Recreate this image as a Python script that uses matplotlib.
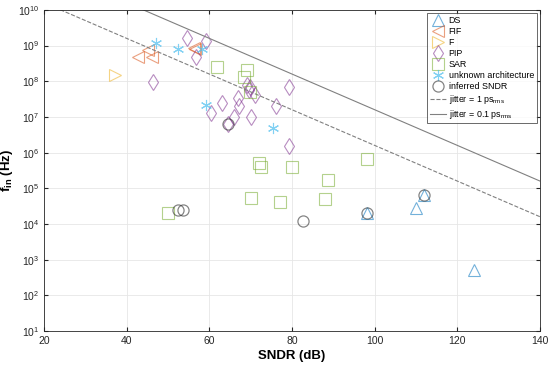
import numpy as np
import matplotlib
matplotlib.use('Agg')
import matplotlib.pyplot as plt

plt.rcParams['font.family'] = ['Liberation Sans', 'DejaVu Sans']
plt.rcParams['mathtext.fontset'] = 'custom'
plt.rcParams['mathtext.rm'] = 'Liberation Sans'
plt.rcParams['mathtext.it'] = 'Liberation Sans'
plt.rcParams['mathtext.bf'] = 'Liberation Sans:bold'

# data: SNDR (dB), fin (Hz)
ds_sndr = [124.0, 110.0, 111.9, 98.1]
ds_fin = [5.1e2, 2.8e4, 6.5e4, 2.0e4]

fif_sndr = [42.7, 45.2, 46.1, 56.3, 56.6]
fif_fin = [4.8e8, 7.6e8, 4.8e8, 8.5e8, 8.0e8]

f_sndr = [37.2]
f_fin = [1.5e8]

pip_sndr = [46.4, 54.6, 59.2, 56.8, 69.1, 69.8, 69.6, 71.0, 79.3, 66.9, 63.1,
            76.1, 67.2, 60.4, 66.0, 70.1, 79.3, 64.5]
pip_fin = [9.5e7, 1.6e9, 1.35e9, 4.8e8, 8.0e7, 7.0e7, 5.8e7, 4.2e7, 7.0e7, 3.4e7, 2.5e7,
           2.0e7, 2.0e7, 1.3e7, 1.0e7, 1.0e7, 1.55e6, 6.3e6]

sar_sndr = [61.9, 69.1, 68.4, 69.8, 72.0, 72.5, 80.0, 88.7, 70.1, 77.1, 88.0, 98.1, 50.0]
sar_fin = [2.5e8, 2.1e8, 1.3e8, 5.0e7, 5.1e5, 4.0e5, 4.0e5, 1.7e5, 5.4e4, 4.2e4, 5.0e4, 6.6e5, 2.0e4]

unk_sndr = [47.1, 52.4, 58.2, 59.2, 75.4]
unk_fin = [1.2e9, 8.2e8, 8.2e8, 2.2e7, 4.9e6]

inf_sndr = [52.4, 53.6, 64.5, 82.7, 98.1, 111.9]
inf_fin = [2.5e4, 2.5e4, 6.3e6, 1.2e4, 2.0e4, 6.5e4]

jitters = [1e-12, 0.1e-12]

fig = plt.figure(figsize=(5.5, 3.67), dpi=100)
ax = fig.add_axes([0.08, 0.098, 0.902, 0.875])

kw = dict(linestyle='none', fillstyle='none', markersize=8, markeredgewidth=0.8, alpha=0.55)
ax.plot(ds_sndr, ds_fin, '^', color=(0, 0.447, 0.741), label='DS', **kw)
ax.plot(fif_sndr, fif_fin, '<', color=(0.85, 0.325, 0.098), label='FIF', **kw)
ax.plot(f_sndr, f_fin, '>', color=(0.929, 0.694, 0.125), label='F', **kw)
ax.plot(pip_sndr, pip_fin, 'd', color=(0.494, 0.184, 0.556), label='PIP', **kw)
ax.plot(sar_sndr, sar_fin, 's', color=(0.466, 0.674, 0.188), label='SAR', **kw)
ax.plot(unk_sndr, unk_fin, marker=(6, 2, 0), color=(0.301, 0.745, 0.933),
        label='unknown architecture', linestyle='none', markersize=8,
        markeredgewidth=0.8, alpha=0.7)
ax.plot(inf_sndr, inf_fin, 'o', color=(0.2, 0.2, 0.2), label='inferred SNDR',
        linestyle='none', fillstyle='none', markersize=8, markeredgewidth=0.9, alpha=0.6)

s = np.linspace(20, 140, 200)
ax.plot(s, 10 ** (-s / 20) / (2 * np.pi * jitters[0]), '--', color='0.5', lw=0.8,
        label=r'jitter = 1 ps$_{\mathrm{rms}}$')
ax.plot(s, 10 ** (-s / 20) / (2 * np.pi * jitters[1]), '-', color='0.5', lw=0.8,
        label=r'jitter = 0.1 ps$_{\mathrm{rms}}$')

ax.set_yscale('log')
ax.set_xlim(20, 140)
ax.set_ylim(1e1, 1e10)
ax.set_xticks([20, 40, 60, 80, 100, 120, 140])
ax.set_yticks([10.0 ** k for k in range(1, 11)])
ax.grid(True, which='major', color='0.9', lw=0.6)
ax.grid(True, which='minor', axis='y', color='0.95', lw=0.5)
ax.tick_params(which='both', direction='in', top=True, right=True, labelsize=7.5,
               colors='0.15', length=3)
ax.tick_params(which='minor', length=1.5)
for sp in ax.spines.values():
    sp.set_color('0.15')
    sp.set_linewidth(0.6)

ax.set_xlabel('SNDR (dB)', fontsize=9.5, fontweight='bold', labelpad=3)
ax.set_ylabel(r'$\mathbf{f_{in}}$ (Hz)', fontsize=9.5, fontweight='bold', labelpad=2)

leg = ax.legend(loc='upper right', fontsize=6.4, frameon=True, fancybox=False,
                edgecolor='0.15', borderpad=0.3, labelspacing=0.22, handlelength=1.8,
                handletextpad=0.3, borderaxespad=0.4)
leg.get_frame().set_linewidth(0.6)

fig.savefig('out.png', dpi=100)
